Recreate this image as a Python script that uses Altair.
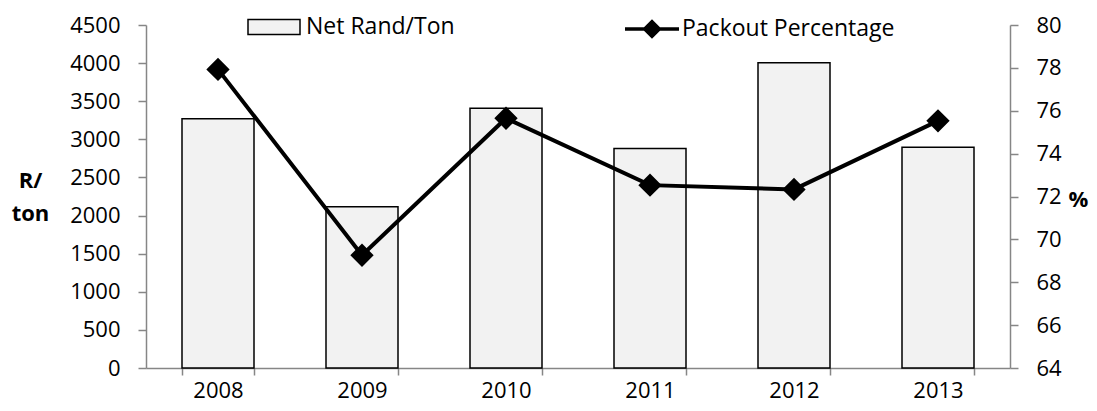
import altair as alt
import pandas as pd

years = ["2008", "2009", "2010", "2011", "2012", "2013"]
net_rand_ton = [3270, 2115, 3408, 2880, 4005, 2895]
packout_pct = [77.93, 69.26, 75.65, 72.53, 72.33, 75.53]
left_ticks = [0, 500, 1000, 1500, 2000, 2500, 3000, 3500, 4000, 4500]
right_ticks = [64, 66, 68, 70, 72, 74, 76, 78, 80]

df = pd.DataFrame({
    "year": years,
    "net": net_rand_ton,
    "packout": packout_pct,
    "s1": ["Net Rand/Ton"] * len(years),
    "s2": ["Packout Percentage"] * len(years),
})

FONT = "Open Sans"
GRAY = "#868686"
FS = 22

base = alt.Chart(df).encode(
    x=alt.X(
        "year:N",
        scale=alt.Scale(paddingInner=0.5, paddingOuter=0.25),
        axis=alt.Axis(title=None, labelAngle=0, tickBand="extent", tickSize=7,
                      labelPadding=5),
    )
)

bars = base.mark_bar(stroke="black", strokeWidth=1.5).encode(
    y=alt.Y(
        "net:Q",
        scale=alt.Scale(domain=[0, 4500], nice=False),
        axis=alt.Axis(values=left_ticks, format="d", title=["R/", "ton"], titleAngle=0,
                      titleFontWeight="bold", titleX=-116, titleY=155,
                      titleAlign="center", titleBaseline="middle",
                      titleLineHeight=33,
                      tickSize=8, labelPadding=18),
    ),
    fill=alt.Fill(
        "s1:N",
        scale=alt.Scale(range=["#f2f2f2"]),
        legend=alt.Legend(orient="none", legendX=101, legendY=-25, title=None,
                          symbolType="M-1,-0.29H1V0.29H-1Z", symbolSize=2704,
                          symbolStrokeColor="black", symbolStrokeWidth=1.5,
                          symbolFillColor="#f2f2f2",
                          labelFont=FONT, labelFontSize=23, labelOffset=5,
                          labelLimit=400, padding=0),
    ),
)

line = base.mark_line(
    strokeWidth=4,
    point=alt.OverlayMarkDef(shape="diamond", size=420, filled=True, color="black"),
).encode(
    y=alt.Y(
        "packout:Q",
        scale=alt.Scale(domain=[64, 80], nice=False),
        axis=alt.Axis(orient="right", values=right_ticks, format="d", title="%",
                      titleAngle=0, titleFontWeight="bold", titleX=68, titleY=174,
                      titleAlign="center", titleBaseline="middle",
                      tickSize=8, labelPadding=18),
    ),
    stroke=alt.Stroke(
        "s2:N",
        scale=alt.Scale(range=["black"]),
        legend=alt.Legend(orient="none", legendX=477, legendY=-25, title=None,
                          symbolType="M-1,0H1M0,-0.27L0.27,0L0,0.27L-0.27,0Z",
                          symbolSize=2916, symbolStrokeColor="black",
                          symbolFillColor="black", symbolStrokeWidth=3.5,
                          labelFont=FONT, labelFontSize=23, labelOffset=1,
                          labelLimit=400, padding=0),
    ),
)

chart = (
    alt.layer(bars, line)
    .resolve_scale(y="independent", fill="independent", stroke="independent")
    .properties(width=864, height=343, autosize="none",
                padding={"left": 138, "top": 17, "right": 79, "bottom": 35})
    .configure_view(stroke=None)
    .configure_axis(domainColor=GRAY, tickColor=GRAY, labelColor="black",
                    labelFont=FONT, labelFontSize=FS, titleFont=FONT,
                    titleFontSize=FS, titleColor="black", grid=False,
                    domainWidth=1.5, tickWidth=1.5)
)

chart.save("out.html", embed_options={"renderer": "svg", "actions": False})
